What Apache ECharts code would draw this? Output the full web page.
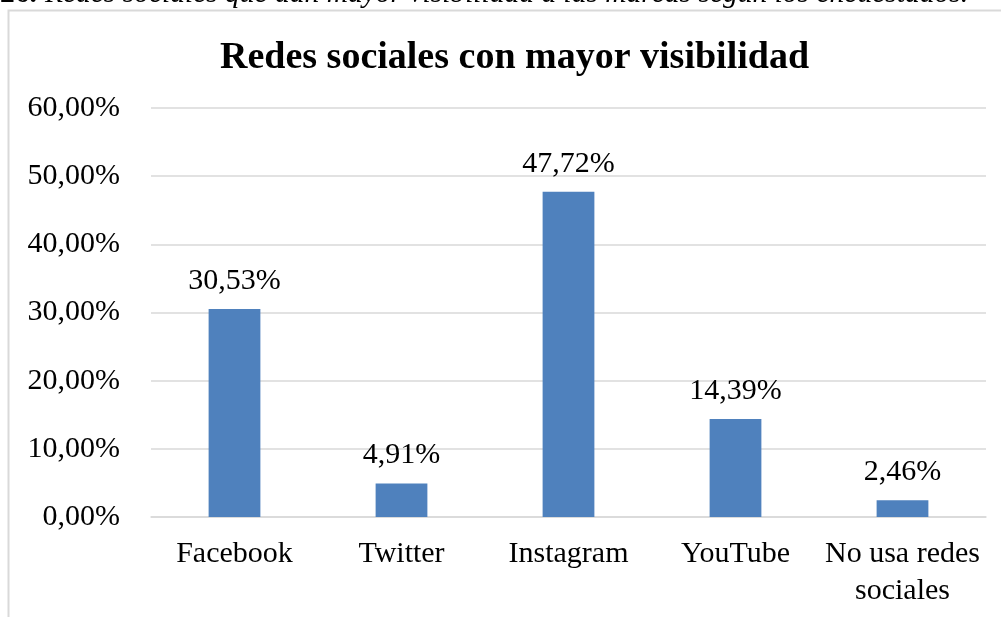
<!DOCTYPE html>
<html>
<head>
<meta charset="utf-8">
<script src="https://cdn.jsdelivr.net/npm/echarts@6/dist/echarts.min.js"></script>
<style>
  html, body { margin: 0; padding: 0; background: #fff; }
  #chart { width: 1001px; height: 617px; }
</style>
</head>
<body>
<div id="chart"></div>
<script>
const categories = ["Facebook", "Twitter", "Instagram", "YouTube", "No usa redes\nsociales"]
const shares = [30.53, 4.91, 47.72, 14.39, 2.46]
const yTicks = { min: 0, max: 60, interval: 10 }

const fmt = (v) => v.toFixed(2).replace(".", ",") + "%"
const font = "'Liberation Serif', 'Times New Roman', serif"

const chart = echarts.init(document.getElementById("chart"), null, { renderer: "canvas" })

chart.setOption({
  animation: false,
  textStyle: { fontFamily: font },
  title: {
    text: "Redes sociales con mayor visibilidad",
    left: 215,
    top: 34,
    textStyle: { fontFamily: font, fontSize: 38, fontWeight: "bold", color: "#000" }
  },
  graphic: [
    {
      type: "rect",
      shape: { x: 8.5, y: 10.5, width: 1100, height: 700 },
      style: { fill: "none", stroke: "#d9d9d9", lineWidth: 2 },
      silent: true
    },
    {
      type: "text",
      left: 0,
      top: -21,
      style: {
        rich: {
          b: { fontFamily: font, fontSize: 29.5, fontWeight: "bold", fill: "#000", padding: [0, 8, 0, 0] },
          i: { fontFamily: font, fontSize: 29.5, fontStyle: "italic", fill: "#000" }
        },
        text: "{b|26.}{i|Redes sociales que dan mayor visibilidad a las marcas según los encuestados.}"
      }
    }
  ],
  grid: { left: 151, right: 15, top: 108, bottom: 100, containLabel: false },
  xAxis: {
    type: "category",
    data: categories,
    axisLine: { lineStyle: { color: "#d9d9d9", width: 1.5 } },
    axisTick: { show: false },
    axisLabel: { color: "#000", fontSize: 30, fontFamily: font, margin: 19, lineHeight: 37, interval: 0 }
  },
  yAxis: {
    type: "value",
    min: yTicks.min,
    max: yTicks.max,
    interval: yTicks.interval,
    axisLine: { show: false },
    axisTick: { show: false },
    axisLabel: { color: "#000", fontSize: 30, fontFamily: font, margin: 31, formatter: fmt },
    splitLine: { lineStyle: { color: "#d9d9d9", width: 1.5 } }
  },
  series: [
    {
      type: "bar",
      data: shares,
      barWidth: "31%",
      itemStyle: { color: "#4f81bd" },
      label: {
        show: true,
        position: "top",
        distance: 13,
        color: "#000",
        fontSize: 30,
        fontFamily: font,
        formatter: (p) => fmt(p.value)
      }
    }
  ]
})
</script>
</body>
</html>
